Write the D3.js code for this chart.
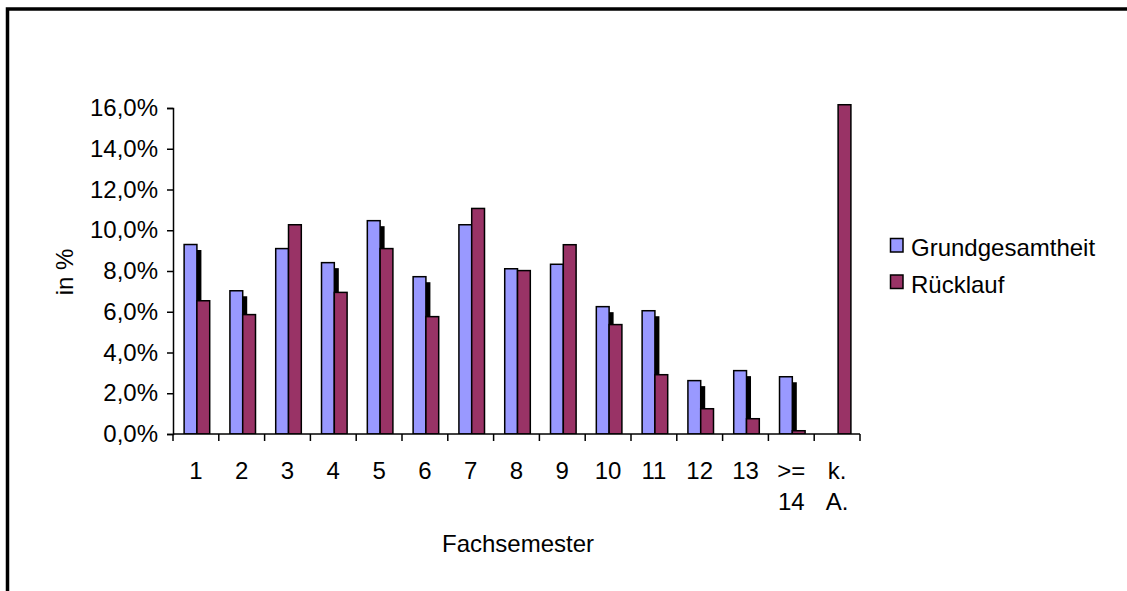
<!DOCTYPE html>
<html>
<head>
<meta charset="utf-8">
<script src="https://cdn.jsdelivr.net/npm/d3@7"></script>
<style>
  body { margin: 0; background: #fff; }
  text { font-family: "Liberation Sans", Arial, sans-serif; fill: #000; }
</style>
</head>
<body>
<div id="chart"></div>
<script>
// Data (values in %)
const categories = ["1", "2", "3", "4", "5", "6", "7", "8", "9", "10", "11", "12", "13", ">= 14", "k. A."];
const grundgesamtheit = [9.3, 7.03, 9.1, 8.41, 10.47, 7.72, 10.27, 8.11, 8.33, 6.25, 6.05, 2.62, 3.11, 2.81, null];
const ruecklauf = [6.54, 5.86, 10.27, 6.95, 9.1, 5.76, 11.07, 8.02, 9.29, 5.37, 2.91, 1.24, 0.75, 0.16, 16.16];
const seriesNames = ["Grundgesamtheit", "Rücklauf"];
const colors = ["#9999ff", "#993366"];
const yTicks = [0, 2, 4, 6, 8, 10, 12, 14, 16];

const W = 1127, H = 591;
const plot = { left: 173, right: 860, top: 108, bottom: 434 };
const fontSize = 24;

const svg = d3.select("#chart")
  .append("svg")
    .attr("width", W)
    .attr("height", H);

// outer frame (only top and left visible in the picture)
svg.append("rect")
    .attr("x", 7.5)
    .attr("y", 9)
    .attr("width", W + 20)
    .attr("height", H + 20)
    .attr("fill", "none")
    .attr("stroke", "#000")
    .attr("stroke-width", 3.5);

const x0 = d3.scaleBand()
    .domain(categories)
    .range([plot.left, plot.right]);

const x1 = d3.scaleBand()
    .domain(seriesNames)
    .range([0, x0.bandwidth()])
    .paddingInner(0)
    .paddingOuter(0.79)
    .align(0.55);

const y = d3.scaleLinear()
    .domain([0, 16])
    .range([plot.bottom, plot.top]);

const de = d3.formatLocale({ decimal: ",", thousands: ".", grouping: [3], currency: ["", " €"] });
const fmt = de.format(".1f");

// clip so shadows do not run below the axis
svg.append("clipPath")
    .attr("id", "plotclip")
  .append("rect")
    .attr("x", plot.left)
    .attr("y", 0)
    .attr("width", plot.right - plot.left)
    .attr("height", plot.bottom);

const data = categories.map((c, i) => ({
  cat: c,
  values: [
    { name: seriesNames[0], value: grundgesamtheit[i], color: colors[0] },
    { name: seriesNames[1], value: ruecklauf[i], color: colors[1] }
  ]
}));

const bars = svg.append("g").attr("clip-path", "url(#plotclip)");

// shadow of the first series
bars.selectAll(".shadow")
  .data(data.filter(d => d.values[0].value != null))
  .join("rect")
    .attr("class", "shadow")
    .attr("x", d => x0(d.cat) + x1(seriesNames[0]) + 4.5)
    .attr("y", d => y(d.values[0].value) + 5.5)
    .attr("width", x1.bandwidth())
    .attr("height", d => plot.bottom - y(d.values[0].value))
    .attr("fill", "#000");

seriesNames.forEach((s, si) => {
  bars.selectAll(".bar" + si)
    .data(data.filter(d => d.values[si].value != null))
    .join("rect")
      .attr("class", "bar" + si)
      .attr("x", d => x0(d.cat) + x1(s))
      .attr("y", d => y(d.values[si].value))
      .attr("width", x1.bandwidth())
      .attr("height", d => plot.bottom - y(d.values[si].value))
      .attr("fill", colors[si])
      .attr("stroke", "#000")
      .attr("stroke-width", 1.5);
});

// y axis
const yAxis = svg.append("g")
    .attr("transform", `translate(${plot.left},0)`)
    .call(d3.axisLeft(y).tickValues(yTicks).tickSize(6).tickPadding(9).tickFormat(d => fmt(d) + "%"));
yAxis.select(".domain").attr("stroke", "#000").attr("stroke-width", 1.5);
yAxis.selectAll(".tick line").attr("stroke", "#000").attr("stroke-width", 1.5);
yAxis.selectAll(".tick text")
    .attr("font-size", fontSize)
    .attr("font-family", "Liberation Sans, Arial, sans-serif")
    .attr("fill", "#000");

// x axis: ticks between categories
const xAxis = svg.append("g")
    .attr("transform", `translate(0,${plot.bottom})`);
xAxis.append("line")
    .attr("x1", plot.left).attr("x2", plot.right)
    .attr("stroke", "#000").attr("stroke-width", 1.5);
const bounds = categories.map(c => x0(c)).concat([plot.right]);
xAxis.selectAll(".xtick")
  .data(bounds)
  .join("line")
    .attr("class", "xtick")
    .attr("x1", d => d).attr("x2", d => d)
    .attr("y1", 0).attr("y2", 7)
    .attr("stroke", "#000").attr("stroke-width", 1.5);

const xLabels = xAxis.selectAll(".xlabel")
  .data(categories)
  .join("text")
    .attr("class", "xlabel")
    .attr("text-anchor", "middle")
    .attr("font-size", fontSize)
    .attr("x", d => x0(d) + x0.bandwidth() / 2)
    .attr("y", 45);
xLabels.each(function(d) {
  const parts = d.split(" ");
  d3.select(this).selectAll("tspan")
    .data(parts)
    .join("tspan")
      .attr("x", x0(d) + x0.bandwidth() / 2)
      .attr("dy", (p, i) => i === 0 ? 0 : 30.5)
      .text(p => p);
});

// axis titles
svg.append("text")
    .attr("text-anchor", "middle")
    .attr("font-size", fontSize)
    .attr("x", 518)
    .attr("y", 552)
    .text("Fachsemester");

svg.append("text")
    .attr("text-anchor", "middle")
    .attr("font-size", fontSize)
    .attr("transform", "translate(73,272) rotate(-90)")
    .text("in %");

// legend
const legend = svg.append("g")
    .attr("transform", "translate(890,238)");
seriesNames.forEach((s, i) => {
  legend.append("rect")
      .attr("x", 0.5)
      .attr("y", i * 36.5 + 0.5)
      .attr("width", 12.5)
      .attr("height", 13.5)
      .attr("fill", colors[i])
      .attr("stroke", "#000")
      .attr("stroke-width", 1.5);
  legend.append("text")
      .attr("x", 21)
      .attr("y", i * 36.5 + 18)
      .attr("font-size", fontSize)
      .text(s);
});
</script>
</body>
</html>
